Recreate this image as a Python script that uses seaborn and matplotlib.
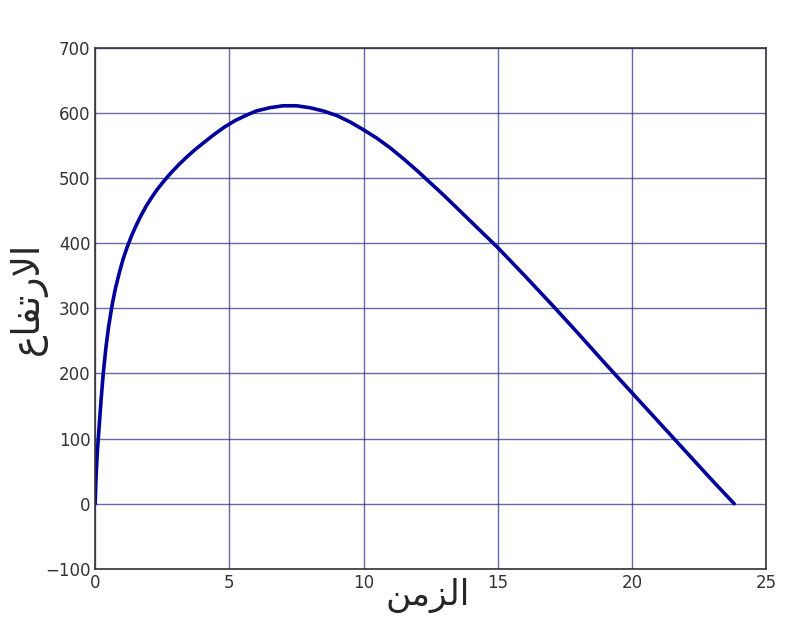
import numpy as np
import pandas as pd
import matplotlib
matplotlib.use("Agg")
import matplotlib.pyplot as plt
import seaborn as sns

# values: time vs height
time = [0.0, 0.03, 0.08, 0.15, 0.22, 0.3, 0.4, 0.5, 0.63, 0.75, 0.9, 1.05,
        1.2, 1.35, 1.5, 1.7, 1.9, 2.1, 2.3, 2.55, 2.8, 3.1, 3.4, 3.7, 4.0,
        4.4, 4.8, 5.2, 5.6, 6.0, 6.5, 7.0, 7.5, 8.0, 8.5, 9.0, 9.5, 10.0,
        10.5, 11.0, 11.5, 12.0, 12.5, 13.0, 13.5, 14.0, 14.5, 15.0, 16.0,
        17.0, 18.0, 19.0, 20.0, 21.0, 22.0, 23.0, 23.8]
height = [0, 40, 80, 120, 160, 200, 240, 272, 305, 330, 355, 377,
          395, 411, 425, 442, 457, 470, 482, 495, 507, 520, 532, 543, 553,
          566, 578, 588, 596, 603, 608, 611, 611, 608, 603, 596, 586, 574,
          561, 546, 529, 511, 492, 473, 453, 433, 413, 393, 350,
          306, 261, 215, 170, 125, 80, 35, 0]

x_ticks = [0, 5, 10, 15, 20, 25]
y_ticks = [-100, 0, 100, 200, 300, 400, 500, 600, 700]

# Arabic labels written in shaped presentation forms (visual order)
x_label = "\uFEE6\uFEE3\uFEB0\uFEDF\uFE8D"            # الزمن
y_label = "\uFEC9\uFE8E\uFED4\uFE97\uFEAD\uFEFB\uFE8D"  # الارتفاع

df = pd.DataFrame({"t": time, "h": height})

sns.set_style("white")
plt.rcParams["font.family"] = ["DejaVu Sans"]

fig = plt.figure(figsize=(8, 6.21), dpi=100)
ax = fig.add_axes([0.119, 0.084, 0.839, 0.839])

sns.lineplot(data=df, x="t", y="h", ax=ax, color="#00009a", linewidth=2.6,
             sort=False)

ax.set_xlim(0, 25)
ax.set_ylim(-100, 700)
ax.set_xticks(x_ticks)
ax.set_yticks(y_ticks)
ax.grid(True, color="#2a2a80", linewidth=1.0, alpha=0.7)
ax.tick_params(axis="both", direction="in", length=4, labelsize=12,
               labelcolor="#333333", colors="#333333")
for s in ax.spines.values():
    s.set_color("#333333")
    s.set_linewidth(1.2)

ax.set_xlabel(x_label, fontsize=25)
ax.set_ylabel(y_label, fontsize=27)
ax.xaxis.set_label_coords(0.495, -0.052)
ax.yaxis.set_label_coords(-0.1, 0.52)
ax.xaxis.label.set_verticalalignment("center")
ax.yaxis.label.set_verticalalignment("center")

fig.savefig("out.png", dpi=100, facecolor="white")
